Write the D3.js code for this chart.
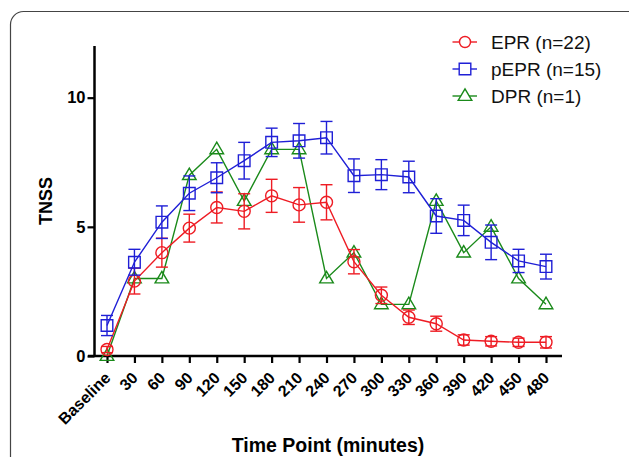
<!DOCTYPE html>
<html>
<head>
<meta charset="utf-8">
<script src="https://cdn.jsdelivr.net/npm/d3@7"></script>
<style>
  html, body { margin: 0; padding: 0; background: #fff; }
  svg { display: block; }
  text { font-family: "Liberation Sans", Arial, sans-serif; }
</style>
</head>
<body>
<svg id="chart" width="629" height="457"></svg>
<script>
const categories = ["Baseline","30","60","90","120","150","180","210","240","270","300","330","360","390","420","450","480"];
const eprValues  = [0.25, 2.9, 4.0, 4.95, 5.75, 5.6, 6.2, 5.85, 5.95, 3.65, 2.35, 1.5, 1.25, 0.62, 0.57, 0.53, 0.53];
const eprErrors  = [0.12, 0.5, 0.56, 0.54, 0.6, 0.68, 0.64, 0.67, 0.68, 0.47, 0.32, 0.28, 0.29, 0.2, 0.18, 0.16, 0.22];
const pEprValues = [1.18, 3.63, 5.18, 6.3, 6.9, 7.56, 8.27, 8.33, 8.45, 6.98, 7.02, 6.93, 5.42, 5.25, 4.4, 3.68, 3.46];
const pEprErrors = [0.39, 0.5, 0.63, 0.67, 0.58, 0.71, 0.55, 0.67, 0.63, 0.65, 0.58, 0.61, 0.67, 0.59, 0.67, 0.45, 0.48];
const dprValues  = [0, 3, 3, 7, 8, 6, 8, 8, 3, 4, 2, 2, 6, 4, 5, 3, 2];
const seriesNames = ["EPR (n=22)", "pEPR (n=15)", "DPR (n=1)"];
const seriesColors = ["#ee1c24", "#1f1fd6", "#1a8a1a"];
const yTicks = [0, 5, 10];
const xTitle = "Time Point (minutes)";
const yTitle = "TNSS";

const svg = d3.select("#chart");

// frame
svg.append("rect")
  .attr("x", 10.5).attr("y", 11.5)
  .attr("width", 640).attr("height", 470)
  .attr("rx", 13).attr("ry", 13)
  .attr("fill", "none").attr("stroke", "#444").attr("stroke-width", 1.2);

const x = d3.scalePoint().domain(categories).range([107, 546]);
const y = d3.scaleLinear().domain([0, 12]).range([356, 46]);

const axisX0 = 88, axisX1 = 562, axisLeft = 94.5;

// y axis
const yAxis = svg.append("g").attr("transform", `translate(${axisLeft},0)`)
  .call(d3.axisLeft(y).tickValues(yTicks).tickSize(7).tickPadding(2).tickFormat(d3.format("d")));
yAxis.select(".domain").remove();
yAxis.append("line").attr("x1", 0).attr("x2", 0).attr("y1", y(12)).attr("y2", y(0))
  .attr("stroke", "#000").attr("stroke-width", 2.5);
yAxis.selectAll(".tick line").attr("stroke", "#000").attr("stroke-width", 2.2);
yAxis.selectAll(".tick text").attr("fill", "#000")
  .style("font-size", "16.5px").style("font-weight", "bold");

// x axis
const xAxis = svg.append("g").attr("transform", `translate(0,${y(0)})`)
  .call(d3.axisBottom(x).tickSize(7).tickPadding(0));
xAxis.select(".domain").remove();
xAxis.append("line").attr("x1", axisX0).attr("x2", axisX1).attr("y1", 0).attr("y2", 0)
  .attr("stroke", "#000").attr("stroke-width", 2.5);
xAxis.selectAll(".tick line").attr("stroke", "#000").attr("stroke-width", 2.2);
xAxis.selectAll(".tick text")
  .attr("fill", "#000")
  .style("font-size", "16px").style("font-weight", "bold")
  .attr("text-anchor", "end")
  .attr("y", null)
  .attr("transform", "translate(-4,15) rotate(-45)")
  .attr("dy", "0.7em");

// titles
svg.append("text").attr("x", 328).attr("y", 452).attr("text-anchor", "middle")
  .style("font-size", "19.5px").style("font-weight", "bold").attr("fill", "#000").text(xTitle);
svg.append("text").attr("transform", "translate(52,201) rotate(-90)").attr("text-anchor", "middle")
  .style("font-size", "18px").style("font-weight", "bold").attr("fill", "#000").text(yTitle);

function symbolPath(kind, cx, cy) {
  if (kind === 0) return null;
  if (kind === 1) { const h = 5.8; return `M${cx-h},${cy-h}H${cx+h}V${cy+h}H${cx-h}Z`; }
  const w = 6.8, h = 11.5;
  return `M${cx},${cy - h*0.62}L${cx+w},${cy + h*0.38}H${cx-w}Z`;
}

function drawSeries(vals, errs, color, kind) {
  const g = svg.append("g");
  const line = d3.line().x((d, i) => x(categories[i])).y(d => y(d));
  g.append("path").datum(vals).attr("d", line)
    .attr("fill", "none").attr("stroke", color).attr("stroke-width", 1.4);
  if (errs) {
    vals.forEach((v, i) => {
      const cx = x(categories[i]);
      const top = y(v + errs[i]), bot = y(v - errs[i]);
      g.append("line").attr("x1", cx).attr("x2", cx).attr("y1", top).attr("y2", bot)
        .attr("stroke", color).attr("stroke-width", 1.4);
      [top, bot].forEach(yy => g.append("line").attr("x1", cx - 6).attr("x2", cx + 6)
        .attr("y1", yy).attr("y2", yy).attr("stroke", color).attr("stroke-width", 1.4));
    });
  }
  vals.forEach((v, i) => {
    const cx = x(categories[i]), cy = y(v);
    if (kind === 0) {
      g.append("circle").attr("cx", cx).attr("cy", cy).attr("r", 6)
        .attr("fill", "none").attr("stroke", color).attr("stroke-width", 1.4);
    } else {
      g.append("path").attr("d", symbolPath(kind, cx, cy))
        .attr("fill", "none").attr("stroke", color).attr("stroke-width", 1.4);
    }
  });
}

drawSeries(dprValues, null, seriesColors[2], 2);
drawSeries(eprValues, eprErrors, seriesColors[0], 0);
drawSeries(pEprValues, pEprErrors, seriesColors[1], 1);

// legend
const legendY = [42, 69, 96];
seriesNames.forEach((name, i) => {
  const g = svg.append("g");
  const cy = legendY[i];
  g.append("line").attr("x1", 452.5).attr("x2", 477).attr("y1", cy).attr("y2", cy)
    .attr("stroke", seriesColors[i]).attr("stroke-width", 1.4);
  if (i === 0) {
    g.append("circle").attr("cx", 465).attr("cy", cy).attr("r", 5.5)
      .attr("fill", "#fff").attr("stroke", seriesColors[i]).attr("stroke-width", 1.4);
  } else {
    g.append("path").attr("d", symbolPath(i, 465, cy))
      .attr("fill", "#fff").attr("stroke", seriesColors[i]).attr("stroke-width", 1.4);
  }
  g.append("text").attr("x", 491).attr("y", cy).attr("dy", "0.36em")
    .style("font-size", "19px").attr("fill", "#111").text(name);
});
</script>
</body>
</html>
